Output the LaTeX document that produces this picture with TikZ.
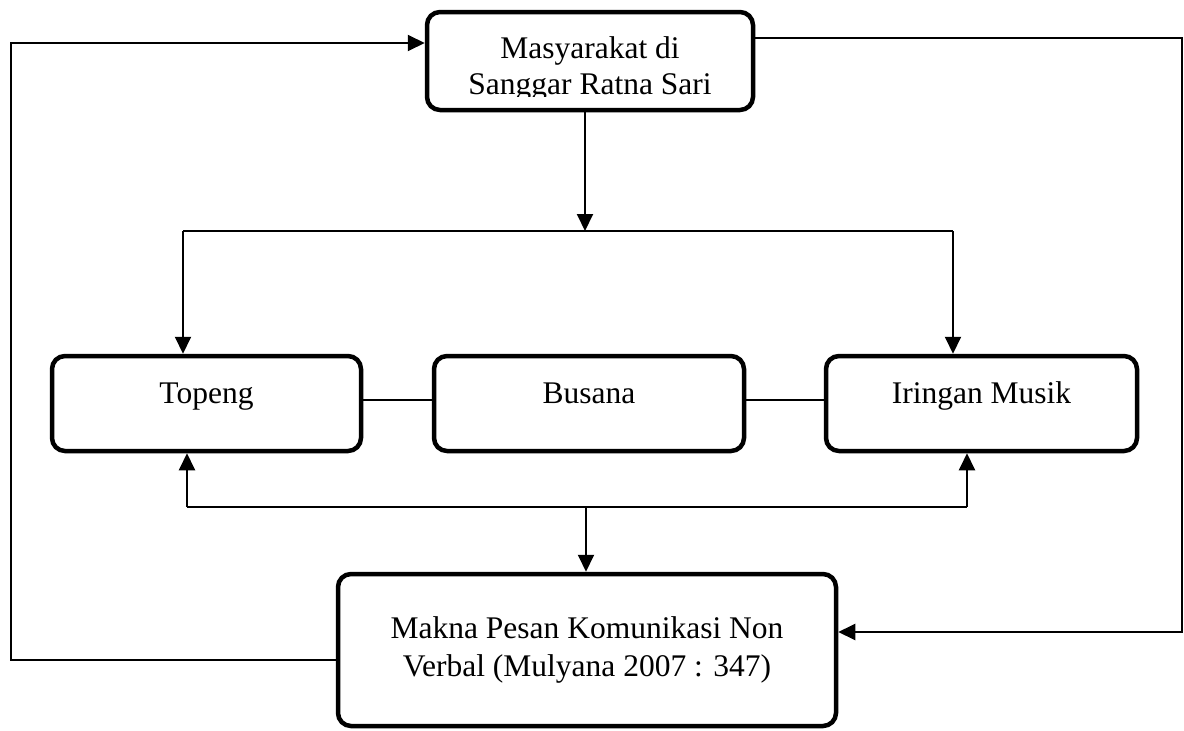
\documentclass[tikz,border=0pt]{standalone}
\usepackage{fontspec}
\setmainfont{Liberation Serif}
\usetikzlibrary{arrows.meta}
\begin{document}
\begin{tikzpicture}[x=1pt,y=-1pt,
  box/.style={draw=black, line width=4.5pt, rounded corners=13pt, fill=white, inner sep=0pt},
  txt/.style={font=\fontsize{31.5}{36}\selectfont, align=center, inner sep=0pt},
  conn/.style={draw=black, line width=2pt},
  thin/.style={draw=black, line width=1.5pt},
  arr/.style={conn, -{Triangle[length=17pt,width=16pt]}}
]
\useasboundingbox (0,0) rectangle (1184,731);

% boxes
\node[box, minimum width=326pt, minimum height=98pt] (top) at (590,61) {};
\begin{scope}
  \clip (427,0) rectangle (753,96);
  \node[txt] (topT) at (590,69) {Masyarakat di\\Sanggar Ratna Sari};
\end{scope}

\node[box, txt, minimum width=309pt, minimum height=95pt, text height=15pt, text depth=15pt] (topeng) at (206.5,403.5) {Topeng};
\node[box, txt, minimum width=310pt, minimum height=95pt, text height=15pt, text depth=15pt] (busana) at (589,403.5) {Busana};
\node[box, txt, minimum width=311pt, minimum height=95pt, text height=15pt, text depth=15pt] (iringan) at (981.5,403.5) {Iringan Musik};

\node[box, txt, minimum width=498pt, minimum height=152pt, font=\fontsize{31.5}{38}\selectfont] (bottom) at (587,650) {Makna Pesan Komunikasi Non\\Verbal (Mulyana 2007 : 347)};

% junction coordinates
\coordinate (j1) at (585,231);
\coordinate (l1) at (183,231);
\coordinate (r1) at (953,231);
\coordinate (j2) at (586,507);
\coordinate (l2) at (187,507);
\coordinate (r2) at (967,507);
\coordinate (cl1) at (11,660);
\coordinate (cl2) at (11,43);
\coordinate (cr1) at (1182,38);
\coordinate (cr2) at (1182,632);

% top to split
\draw[arr] (j1 |- top.south) -- (j1);
\draw[conn] (l1) -- (r1);
\draw[arr] (l1) -- (l1 |- topeng.north);
\draw[arr] (r1) -- (r1 |- iringan.north);

% middle thin connectors
\draw[thin] ([yshift=3.5pt]topeng.east) -- ([yshift=3.5pt]busana.west);
\draw[thin] ([yshift=3.5pt]busana.east) -- ([yshift=3.5pt]iringan.west);

% lower split
\draw[conn] (l2) -- (r2);
\draw[arr] (l2) -- (l2 |- topeng.south);
\draw[arr] (r2) -- (r2 |- iringan.south);
\draw[arr] (j2) -- (j2 |- bottom.north);

% feedback loops
\draw[arr] (cl1 -| bottom.west) -- (cl1) -- (cl2) -- (cl2 -| top.west);
\draw[arr] (cr1 -| top.east) -- (cr1) -- (cr2) -- (cr2 -| bottom.east);
\end{tikzpicture}
\end{document}
